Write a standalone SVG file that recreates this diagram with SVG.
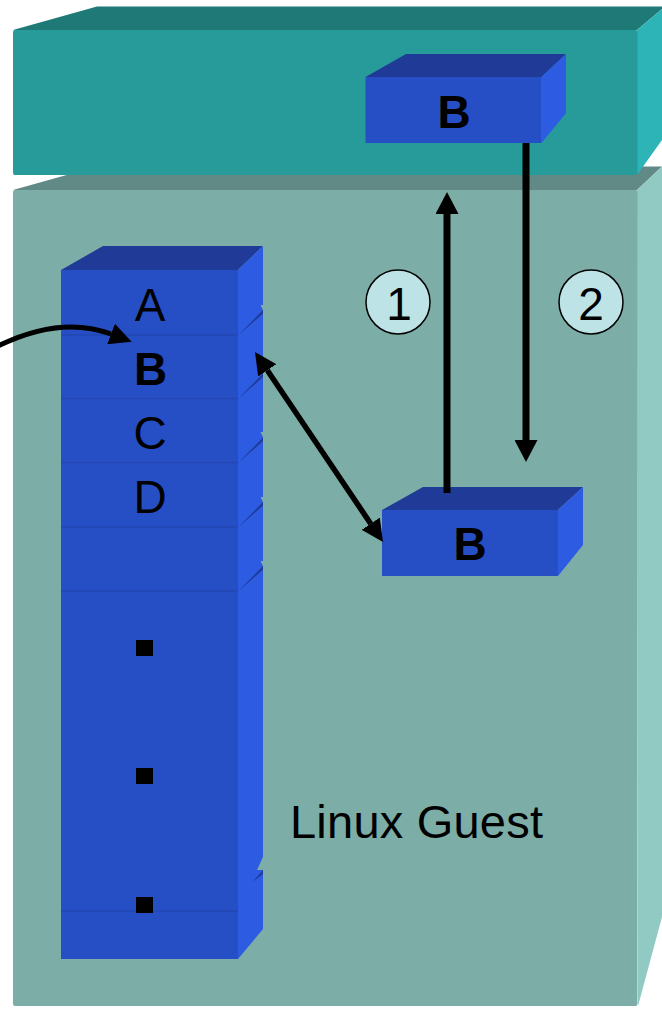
<svg xmlns="http://www.w3.org/2000/svg" width="662" height="1013" viewBox="0 0 662 1013">
  <style>
    .lbl { font-family: "Liberation Sans", Arial, sans-serif; font-size: 46px; fill: #000; }
    .bold { font-weight: bold; }
    .mid { text-anchor: middle; }
    .blueFront { fill: #274FC5; }
    .blueTop { fill: #1F3B97; }
    .blueSide { fill: #2D5BE2; }
    .sep { stroke: #2347B4; stroke-width: 1.5; fill: none; }
    .notchBg { fill: #7CAEA7; }
    .notchDark { fill: #1F3B97; }
    .arrow { stroke: #000; fill: none; stroke-linecap: butt; }
    .step { fill: #BEE3E6; stroke: #000; stroke-width: 1.5; }
  </style>
  <defs>
    <marker id="headV" markerUnits="userSpaceOnUse" markerWidth="23" markerHeight="23" refX="0" refY="11.5" orient="auto">
      <path d="M0,0 L22,11.5 L0,23 z" fill="#000"/>
    </marker>
    <marker id="headD" markerUnits="userSpaceOnUse" markerWidth="22" markerHeight="22" refX="0" refY="11" orient="auto-start-reverse">
      <path d="M0,0 L22,11 L0,22 z" fill="#000"/>
    </marker>
  </defs>

  <rect width="662" height="1013" fill="#FFFFFF"/>

  <!-- Linux guest slab -->
  <g id="linux-guest">
    <polygon points="13,190 97,166.5 662,166.5 637,190" fill="#618985"/>
    <polygon points="637,190 662,166.5 662,917 638,1006" fill="#91C9C3"/>
    <rect x="13" y="190" width="624.5" height="816" rx="2" fill="#7CAEA7"/>
    <text class="lbl" x="290" y="838" style="font-size:47px" textLength="253" lengthAdjust="spacing">Linux Guest</text>
  </g>

  <!-- hypervisor slab -->
  <g id="host">
    <polygon points="13,30 97,6.5 662,6.5 662,9 637,30" fill="#1F7A77"/>
    <polygon points="637,30 662,9 662,140 637,175" fill="#2DB4B6"/>
    <rect x="13" y="30" width="624.5" height="145" rx="2" fill="#279B9A"/>
  </g>

  <!-- page B held by the host -->
  <g id="host-page-b">
    <polygon class="blueTop" points="365.5,77 406,54 566,54 541.5,77"/>
    <polygon class="blueSide" points="541.5,77 566,54 566,113 541.5,143"/>
    <rect class="blueFront" x="365.5" y="77" width="176" height="66"/>
    <text class="lbl bold mid" x="454" y="128">B</text>
  </g>

  <!-- page stack of the guest -->
  <g id="page-stack">
    <polygon class="blueTop" points="61,270 103,246 263,246 238,270"/>
    <polygon class="blueSide" points="238,270 263,246 263,929 238,959"/>
    <rect class="blueFront" x="61" y="270" width="177" height="689"/>
    <!-- row seams on the front -->
    <path class="sep" d="M61,335H238M61,398.5H238M61,462.5H238M61,527H238M61,591H238M61,911H238"/>
    <!-- seams on the side face -->
    <polygon class="notchBg" points="260.5,305 263,305 263,310"/>
    <polygon class="notchDark" points="238.5,335 263,310 263,313.5"/>
    <polygon class="notchBg" points="260.5,368 263,368 263,373"/>
    <polygon class="notchDark" points="238.5,398.5 263,373.5 263,377"/>
    <polygon class="notchBg" points="260.5,432 263,432 263,437"/>
    <polygon class="notchDark" points="238.5,462.5 263,437.5 263,441"/>
    <polygon class="notchBg" points="260.5,497 263,497 263,502"/>
    <polygon class="notchDark" points="238.5,527 263,502 263,505.5"/>
    <polygon class="notchBg" points="260.5,561 263,561 263,566"/>
    <polygon class="notchDark" points="238.5,591 263,566 263,569.5"/>
    <polygon class="notchBg" points="263,857 257,870 263,870"/>
    <polygon class="notchDark" points="252.5,882 263,870 263,874"/>
    <text class="lbl mid" x="150" y="321">A</text>
    <text class="lbl bold mid" x="150.5" y="385">B</text>
    <text class="lbl mid" x="150" y="449">C</text>
    <text class="lbl mid" x="150" y="513">D</text>
    <rect x="136" y="640" width="17" height="16" fill="#000"/>
    <rect x="136" y="768" width="17" height="16" fill="#000"/>
    <rect x="136" y="897" width="17" height="16" fill="#000"/>
  </g>

  <!-- page B copied into the guest -->
  <g id="guest-page-b">
    <polygon class="blueTop" points="382,510 423,487 583,487 558,510"/>
    <polygon class="blueSide" points="558,510 583,487 583,545 558,576"/>
    <rect class="blueFront" x="382" y="510" width="176" height="66"/>
    <text class="lbl bold mid" x="470" y="560">B</text>
  </g>

  <!-- step markers -->
  <g id="step-1">
    <circle class="step" cx="398" cy="302" r="32"/>
    <text class="lbl mid" x="399" y="320">1</text>
  </g>
  <g id="step-2">
    <circle class="step" cx="591" cy="302" r="32"/>
    <text class="lbl mid" x="591" y="320">2</text>
  </g>

  <!-- connectors -->
  <g id="connectors">
    <path class="arrow" stroke-width="5" d="M-4,347 Q60,315 111,334" marker-end="url(#headD)"/>
    <line class="arrow" stroke-width="5.5" x1="267.3" y1="370.3" x2="370.7" y2="523.7" marker-start="url(#headD)" marker-end="url(#headD)"/>
    <line class="arrow" stroke-width="7" x1="447" y1="493" x2="447" y2="214" marker-end="url(#headV)"/>
    <line class="arrow" stroke-width="7" x1="526" y1="143" x2="526" y2="440" marker-end="url(#headV)"/>
  </g>
</svg>
